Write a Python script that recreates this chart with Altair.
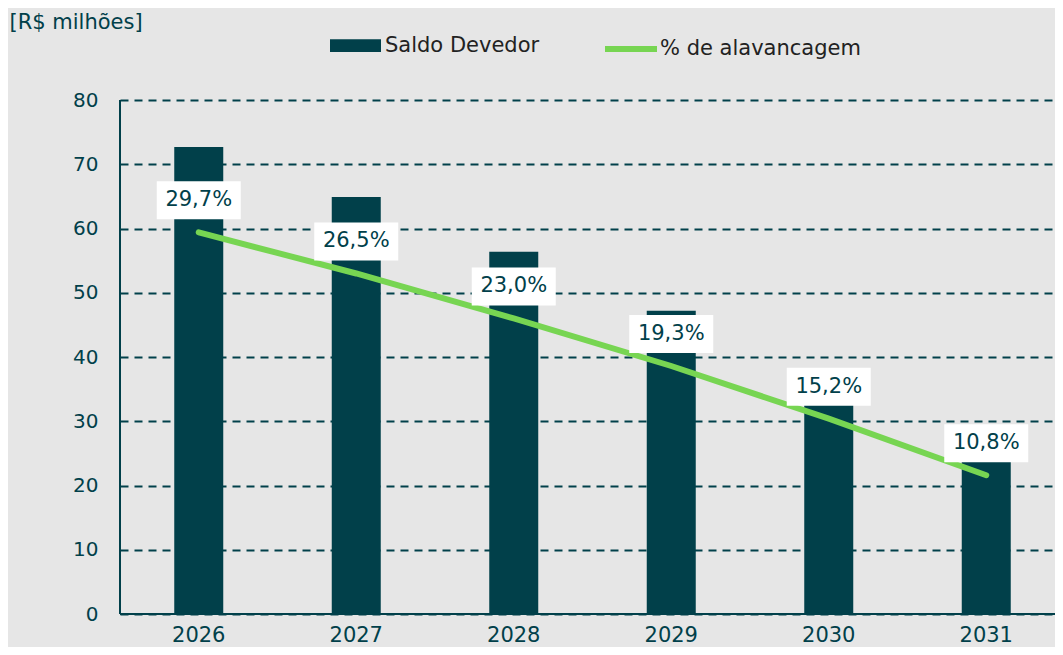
import altair as alt
import pandas as pd

years = ["2026", "2027", "2028", "2029", "2030", "2031"]
saldo = [72.7, 64.9, 56.4, 47.2, 37.2, 23.8]
alav = [29.7, 26.5, 23.0, 19.3, 15.2, 10.8]
labels = [f"{v:.1f}".replace(".", ",") + "%" for v in alav]

TEAL = "#01404a"
GREEN = "#77d552"
BG = "#e6e6e6"
FONT = "DejaVu Sans"

df = pd.DataFrame({"ano": years, "saldo": saldo, "alav": alav, "label": labels,
                   "s1": "Saldo Devedor", "s2": "% de alavancagem"})

x = alt.X("ano:N", sort=years, title=None,
          scale=alt.Scale(paddingInner=0, paddingOuter=0, range=[0, 945]),
          axis=alt.Axis(labelAngle=0, labelFontSize=21, labelColor=TEAL, labelFont=FONT,
                        ticks=False, domain=False, grid=False, labelPadding=10))

bars = alt.Chart(df).mark_bar(size=49).encode(
    x=x,
    y=alt.Y("saldo:Q", scale=alt.Scale(domain=[0, 80]),
            axis=alt.Axis(values=[0, 10, 20, 30, 40, 50, 60, 70, 80], title="[R$ milhões]",
                          titleAngle=0, titleAlign="left", titleBaseline="alphabetic",
                          titleX=-111, titleY=-72, titleFontSize=21, titleFontWeight="normal",
                          titleColor=TEAL, titleFont=FONT,
                          labelFontSize=20, labelColor=TEAL, labelFont=FONT, labelPadding=22,
                          ticks=False, domain=False, grid=True, gridColor=TEAL,
                          gridDash=[8, 6], gridWidth=2)),
    fill=alt.Fill("s1:N", scale=alt.Scale(domain=["Saldo Devedor"], range=[TEAL]),
                  legend=alt.Legend(title=None, orient="none", legendX=210, legendY=-80,
                                    symbolType="M-1,-0.25H1V0.25H-1Z", symbolSize=2601,
                                    symbolStrokeWidth=0, labelFontSize=21, labelColor="#222222",
                                    labelFont=FONT, labelOffset=4, padding=0, labelLimit=0)),
)

y2 = alt.Y("alav:Q", scale=alt.Scale(domain=[0, 40]), axis=None)

line = alt.Chart(df).mark_line(strokeWidth=6, strokeCap="round").encode(
    x=x, y=y2,
    stroke=alt.Stroke("s2:N", scale=alt.Scale(domain=["% de alavancagem"], range=[GREEN]),
                      legend=alt.Legend(title=None, orient="none", legendX=482, legendY=-80,
                                        symbolType="stroke", symbolSize=2704,
                                        symbolStrokeWidth=6, labelFontSize=21,
                                        labelColor="#222222", labelFont=FONT,
                                        labelOffset=0, padding=0, labelLimit=0)),
)

boxes = alt.Chart(df).mark_rect(width=84, height=38, yOffset=-32, color="white").encode(
    x=x, y=y2)
texts = alt.Chart(df).mark_text(yOffset=-32, fontSize=21, color=TEAL, font=FONT).encode(
    x=x, y=y2, text="label:N")

domain_left = alt.Chart(df).mark_rule(color=TEAL, strokeWidth=2).encode(
    x=alt.value(0), y=alt.value(0), y2=alt.value(514))
domain_bottom = alt.Chart(df).mark_rule(color=TEAL, strokeWidth=2).encode(
    x=alt.value(0), x2=alt.value(945), y=alt.value(514))

chart = alt.layer(bars, domain_left, domain_bottom,
                  alt.layer(line, boxes, texts)).resolve_scale(y="independent").properties(
    width=935, height=514,
    autosize=alt.AutoSizeParams(type="none"),
    padding={"left": 112, "top": 92, "right": 0, "bottom": 33},
    background=BG,
).configure_view(stroke=None)

chart.save("out.html", embed_options={"renderer": "svg", "actions": False})
